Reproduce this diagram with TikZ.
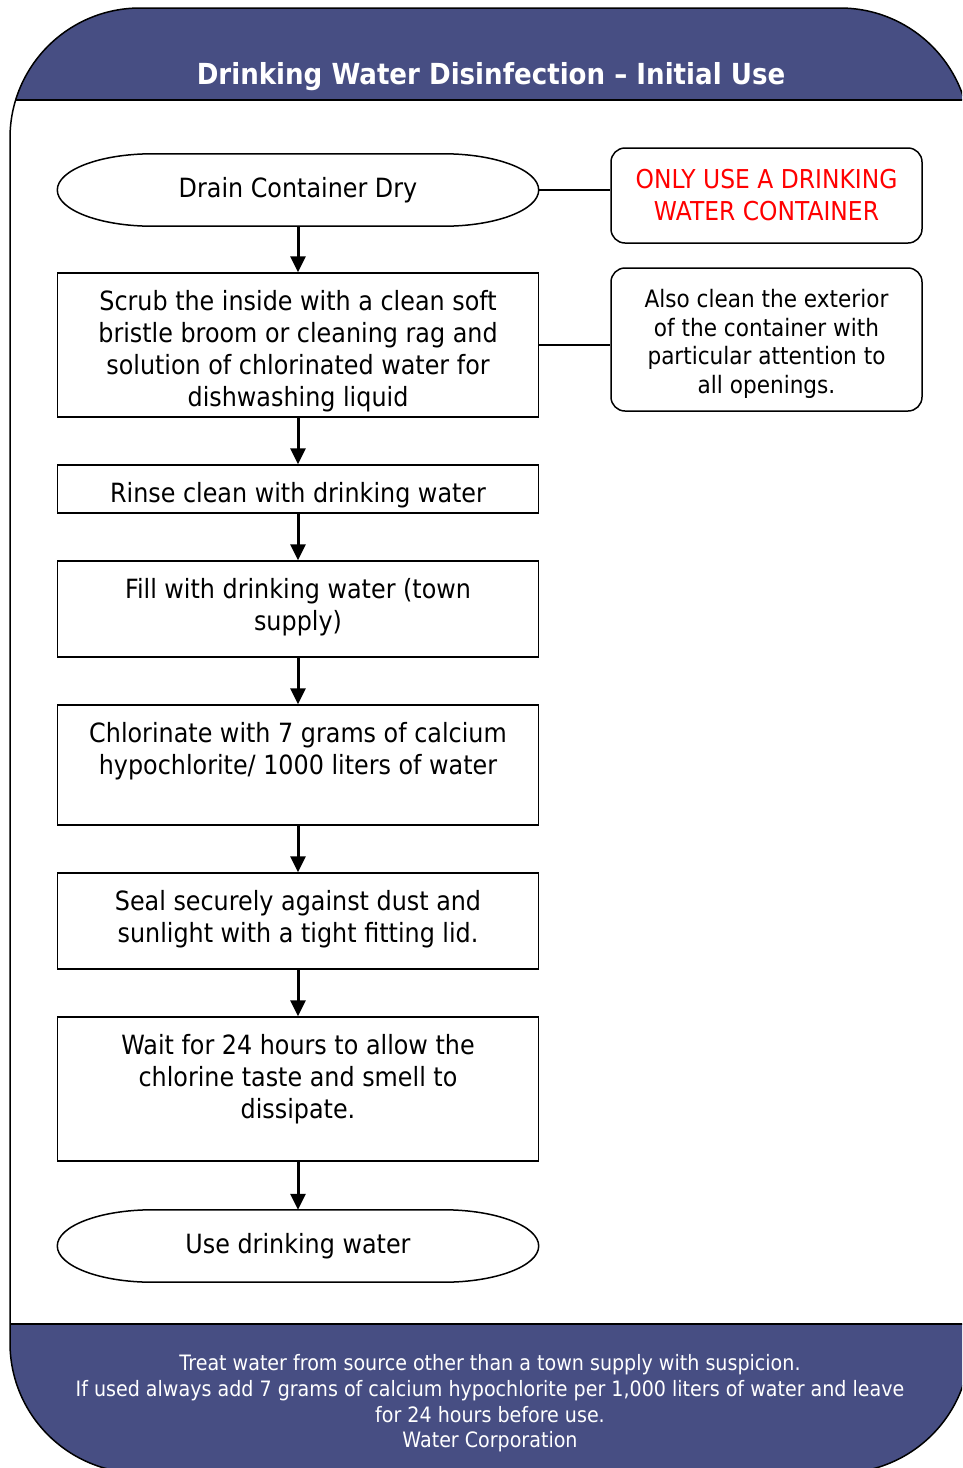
\documentclass[tikz,border=0pt]{standalone}
\usepackage{fontspec}
\setmainfont[FakeStretch=0.9]{DejaVu Sans}
\usetikzlibrary{arrows.meta,calc}
\definecolor{hdr}{RGB}{71,78,131}
\definecolor{warn}{RGB}{255,0,0}
\newcommand{\boxtext}[2]{\parbox[c][#1pt][t]{470pt}{\centering\fontsize{26.5}{32}\selectfont\rule{0pt}{37pt}#2\par}}
\newcommand{\ovalframe}[1]{%
  \draw[line width=1.5pt] (#1.west) .. controls +(0,-19.9) and +(-52.5,0) .. ($(#1.north west)+(95,0)$)
    -- ($(#1.north east)+(-95,0)$) .. controls +(52.5,0) and +(0,-19.9) .. (#1.east)
    .. controls +(0,19.9) and +(52.5,0) .. ($(#1.south east)+(-95,0)$)
    -- ($(#1.south west)+(95,0)$) .. controls +(-52.5,0) and +(0,19.9) .. (#1.west) -- cycle;}
\begin{document}
\begin{tikzpicture}[x=1pt,y=-1pt,
  flow/.style={draw, line width=1.5pt, inner sep=0pt, minimum width=481pt},
  oval/.style={inner sep=0pt, minimum width=481pt, minimum height=72pt, font=\fontsize{26.5}{32}\selectfont},
  note/.style={draw, rounded corners=14pt, line width=1.5pt, inner sep=0pt, minimum width=311pt, align=center},
  arr/.style={line width=3pt, -{Triangle[width=15pt,length=16pt]}},
  link/.style={line width=1.5pt},
  frame/.style={line width=1.5pt}
]
\useasboundingbox (0,0) rectangle (962,1468);
\begin{scope}
  \clip (0,0) rectangle (962,1468);
  \begin{scope}
    \clip[rounded corners=130pt] (10,8) rectangle (970,1473);
    \fill[hdr] (0,0) rectangle (975,100);
    \fill[hdr] (0,1324) rectangle (975,1480);
    \draw[frame] (0,100) -- (975,100);
    \draw[frame] (0,1324) -- (975,1324);
  \end{scope}
  \draw[frame, rounded corners=130pt] (10,8) rectangle (970,1473);
\end{scope}

\node[text=white, font=\bfseries\fontsize{29}{34}\selectfont] (title) at (491,77) {Drinking Water Disinfection – Initial Use};

\node[oval] (n1) at (298,190) {Drain Container Dry};
\ovalframe{n1}
\node[flow] (n2) at (298,345) {\boxtext{144}{Scrub the inside with a clean soft\\bristle broom or cleaning rag and\\solution of chlorinated water for\\dishwashing liquid}};
\node[flow] (n3) at (298,489) {\boxtext{48}{Rinse clean with drinking water}};
\node[flow] (n4) at (298,609) {\boxtext{96}{Fill with drinking water (town\\supply)}};
\node[flow] (n5) at (298,765) {\boxtext{120}{Chlorinate with 7 grams of calcium\\hypochlorite/ 1000 liters of water}};
\node[flow] (n6) at (298,921) {\boxtext{96}{Seal securely against dust and\\sunlight with a tight fitting lid.}};
\node[flow] (n7) at (298,1089) {\boxtext{144}{Wait for 24 hours to allow the\\chlorine taste and smell to\\dissipate.}};
\node[oval] (n8) at (298,1246) {Use drinking water};
\ovalframe{n8}

\node[note, minimum height=95pt, text=warn, font=\fontsize{26}{32}\selectfont] (noteA) at (766.5,195.5) {ONLY USE A DRINKING\\WATER CONTAINER};
\node[note, minimum height=143pt] (noteB) at (766.5,339.5) {\parbox[c][143pt][t]{300pt}{\centering\fontsize{24}{28.7}\selectfont\rule{0pt}{39.5pt}Also clean the exterior\\of the container with\\particular attention to\\all openings.\par}};

\draw[link] (n1.east) -- (n1.east -| noteA.west);
\draw[link] (n2.east) -- (n2.east -| noteB.west);

\draw[arr] (n1.south) -- (n2.north);
\draw[arr] (n2.south) -- (n3.north);
\draw[arr] (n3.south) -- (n4.north);
\draw[arr] (n4.south) -- (n5.north);
\draw[arr] (n5.south) -- (n6.north);
\draw[arr] (n6.south) -- (n7.north);
\draw[arr] (n7.south) -- (n8.north);

\node[text=white, align=center, font=\fontsize{21.2}{25.7}\selectfont] (foot) at (490,1403.5) {Treat water from source other than a town supply with suspicion.\\If used always add 7 grams of calcium hypochlorite per 1,000 liters of water and leave\\for 24 hours before use.\\Water Corporation};
\end{tikzpicture}
\end{document}
